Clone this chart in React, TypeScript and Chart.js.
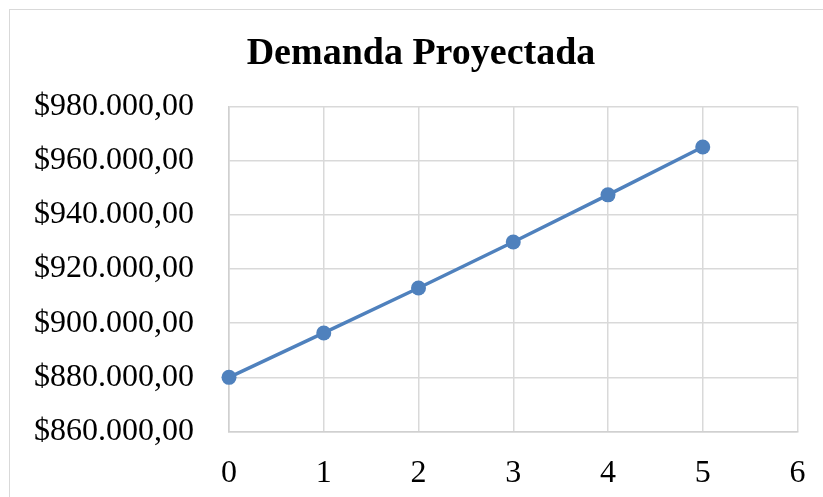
import React, { useEffect, useRef } from "react";
import { Chart, registerables } from "chart.js";

Chart.register(...registerables);

const titleText = "Demanda Proyectada";
const periods = [0, 1, 2, 3, 4, 5];
const demand = [880000, 896400, 913000, 930000, 947400, 965100];
const xMin = 0;
const xMax = 6;
const yMin = 860000;
const yMax = 980000;
const yStep = 20000;

const fmt = (v: number) =>
  "$" + Math.round(v).toString().replace(/\B(?=(\d{3})+(?!\d))/g, ".") + ",00";

export default function App() {
  const ref = useRef<HTMLCanvasElement | null>(null);

  useEffect(() => {
    if (!ref.current) return;
    const font = "'Liberation Serif', 'Times New Roman', serif";
    const chart = new Chart(ref.current, {
      type: "line",
      data: {
        datasets: [
          {
            data: periods.map((p, i) => ({ x: p, y: demand[i] })),
            borderColor: "#4f81bd",
            backgroundColor: "#4f81bd",
            borderWidth: 3.5,
            pointRadius: 7.5,
            pointBorderWidth: 0,
            pointBackgroundColor: "#4f81bd",
            pointBorderColor: "#4f81bd",
            tension: 0,
            clip: false,
          },
        ],
      },
      options: {
        animation: false,
        responsive: false,
        layout: { padding: { left: 25, right: 16, top: 0, bottom: 0 } },
        plugins: {
          legend: { display: false },
          tooltip: { enabled: false },
          title: {
            display: true,
            text: titleText,
            color: "#000000",
            font: { family: font, size: 38, weight: "bold" },
            padding: { top: 21, bottom: 30 },
          },
        },
        scales: {
          x: {
            type: "linear",
            min: xMin,
            max: xMax,
            afterFit: (s: any) => {
              s.height = 65.5;
              s.paddingRight = 25.5;
              s.paddingLeft = 0;
            },
            ticks: {
              stepSize: 1,
              color: "#000000",
              padding: 23,
              font: { family: font, size: 32 },
            },
            grid: { color: "#d9d9d9", lineWidth: 1.5, drawTicks: false },
            border: { color: "#d0d0d0", width: 1.5 },
          },
          y: {
            min: yMin,
            max: yMax,
            afterFit: (s: any) => {
              s.width = 194;
            },
            ticks: {
              stepSize: yStep,
              color: "#000000",
              padding: 35,
              font: { family: font, size: 32 },
              callback: (v: any) => fmt(Number(v)),
            },
            grid: { color: "#d9d9d9", lineWidth: 1.5, drawTicks: false },
            border: { color: "#d0d0d0", width: 1.5 },
          },
        },
      },
    });
    return () => chart.destroy();
  }, []);

  return (
    <div
      style={{
        position: "absolute",
        left: 9,
        top: 9,
        width: 814,
        height: 488,
        borderTop: "1px solid #d9d9d9",
        borderLeft: "1px solid #d9d9d9",
        boxSizing: "border-box",
        background: "#ffffff",
        overflow: "hidden",
      }}
    >
      <canvas ref={ref} width={813} height={487} style={{ display: "block" }} />
    </div>
  );
}
